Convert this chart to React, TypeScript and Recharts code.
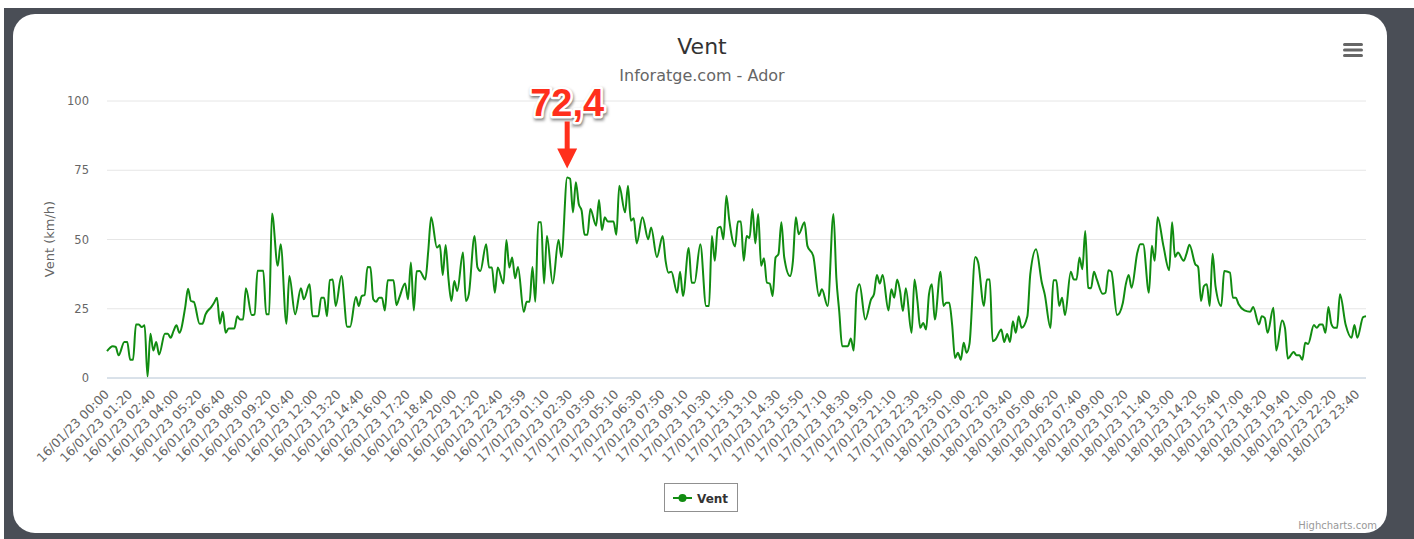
import React from 'react';
import { LineChart, Line, XAxis, YAxis, CartesianGrid, Legend, ReferenceDot } from 'recharts';

const FONT = '"DejaVu Sans", "Noto Sans", sans-serif';

// X tick labels, one every 8 time slots (10-minute readings)
const tickLabels: string[] = [
  '16/01/23 00:00', '16/01/23 01:20', '16/01/23 02:40', '16/01/23 04:00', '16/01/23 05:20', '16/01/23 06:40',
  '16/01/23 08:00', '16/01/23 09:20', '16/01/23 10:40', '16/01/23 12:00', '16/01/23 13:20', '16/01/23 14:40',
  '16/01/23 16:00', '16/01/23 17:20', '16/01/23 18:40', '16/01/23 20:00', '16/01/23 21:20', '16/01/23 22:40',
  '16/01/23 23:59',
  '17/01/23 01:10', '17/01/23 02:30', '17/01/23 03:50', '17/01/23 05:10', '17/01/23 06:30', '17/01/23 07:50',
  '17/01/23 09:10', '17/01/23 10:30', '17/01/23 11:50', '17/01/23 13:10', '17/01/23 14:30', '17/01/23 15:50',
  '17/01/23 17:10', '17/01/23 18:30', '17/01/23 19:50', '17/01/23 21:10', '17/01/23 22:30', '17/01/23 23:50',
  '18/01/23 01:00', '18/01/23 02:20', '18/01/23 03:40', '18/01/23 05:00', '18/01/23 06:20', '18/01/23 07:40',
  '18/01/23 09:00', '18/01/23 10:20', '18/01/23 11:40', '18/01/23 13:00', '18/01/23 14:20', '18/01/23 15:40',
  '18/01/23 17:00', '18/01/23 18:20', '18/01/23 19:40', '18/01/23 21:00', '18/01/23 22:20', '18/01/23 23:40',
];
const SLOTS_PER_TICK = 8;
const LAST_SLOT = 435;

const yTicks = [0, 25, 50, 75, 100];

// [time slot, wind km/h]
const day16: [number, number][] = [
  [0, 9.7], [2, 11.5], [3, 11.2], [4, 8.2], [6, 13], [7, 13], [8, 6.6], [9, 6.6], [10, 19.3], [11, 19.3],
  [12, 18.4], [13, 19], [14, 0.5], [15, 16], [16, 9.9], [17, 13], [18, 8.5], [20, 16], [21, 16], [22, 14.5],
  [23, 17], [24, 19], [25, 16.3], [27, 25.4], [28, 32.2], [29, 27.8], [30, 27.5], [32, 19.6], [33, 19.6],
  [34, 22.9], [36, 25.6], [37, 27.2], [38, 29], [39, 19.6], [40, 23.9], [41, 16.3], [42, 17.9], [44, 17.9],
  [45, 22.3], [46, 21.1], [47, 21.1], [48, 32.4], [50, 22.7], [51, 23], [52, 38.7], [54, 38.7], [55, 23],
  [56, 23], [57, 59.4], [59, 40.5], [60, 48.3], [62, 19.6], [63, 36.8], [65, 23], [67, 32.4], [68, 28.4],
  [70, 33.8], [71, 22.3], [73, 22.3], [74, 29], [75, 29], [76, 22.3], [77, 35.3], [78, 35.6], [79, 26],
  [81, 36.8], [83, 18.5], [84, 18.5], [86, 29.2], [87, 26], [88, 29.6], [89, 29.9], [90, 40.1], [91, 40],
  [92, 28.4], [93, 27.5], [94, 29], [95, 29], [96, 24.4], [97, 35.3], [99, 35.3], [100, 26.3], [101, 29],
  [103, 34.1], [104, 28.4], [105, 41.7], [106, 24.4], [107, 38.5], [108, 38.6], [110, 35.6], [111, 45.9],
  [112, 58], [114, 47.1], [115, 48], [116, 37.2], [117, 48], [118, 35.6], [119, 27.8], [120, 35], [121, 31.4],
  [123, 45.3], [124, 27.8], [125, 30.2], [127, 51.3], [128, 39.9], [129, 38.6], [131, 48.3], [132, 39.9],
  [133, 39.9], [134, 30.8], [135, 39.9], [137, 34.1], [138, 49.8], [139, 39.9], [140, 43.5], [141, 36],
  [142, 40.1], [144, 23.9],
];

const day17: [number, number][] = [
  [145, 27.5], [146, 27.5], [147, 40.1], [148, 27.5], [149, 56.2], [150, 56.2], [151, 34.1], [152, 51.3],
  [154, 34.1], [156, 49.8], [157, 43.7], [159, 72.4], [160, 71.9], [161, 59.8], [162, 70.7], [163, 62.8],
  [164, 60.4], [165, 51.7], [166, 51.7], [167, 61], [169, 55], [170, 64.3], [171, 53.4], [172, 58],
  [173, 56.5], [175, 56.5], [176, 51.7], [177, 69.4], [179, 59.8], [180, 69.4], [181, 56.8], [182, 57.7],
  [183, 48.6], [185, 58], [187, 50.1], [188, 54.3], [190, 43.7], [192, 51.3], [193, 42.3], [194, 38],
  [195, 38.4], [197, 30.8], [198, 38.4], [199, 29.6], [201, 46.9], [202, 34.4], [203, 34.4], [205, 48.3],
  [207, 26], [208, 26], [209, 51.3], [210, 42.3], [211, 54.1], [212, 54.6], [213, 50.1], [214, 65.8],
  [215, 57], [217, 47.5], [218, 56.5], [219, 56.5], [220, 42.3], [221, 51.3], [222, 50.5], [223, 61],
  [224, 48.6], [225, 59.2], [226, 40.5], [227, 43.2], [228, 34.4], [229, 34.1], [230, 29.6], [231, 43.5],
  [232, 44.7], [233, 56.2], [234, 43.5], [236, 36.8], [237, 42.3], [238, 58], [239, 51.9], [241, 56.2],
  [242, 47.7], [244, 44.1], [246, 29.6], [247, 32], [249, 26], [251, 59.2], [252, 36.2], [253, 24],
  [254, 11.5], [256, 11.5], [257, 14.3], [258, 9.9], [259, 30.8], [260, 33.8], [262, 21.1], [264, 28.4],
  [265, 30.2], [266, 37.2], [267, 34.1], [268, 37.2], [270, 24.4], [271, 32], [272, 29], [273, 35.6],
  [274, 31.4], [275, 24.2], [276, 32.4], [278, 16.3], [279, 35.6], [280, 27.8], [281, 18.1], [282, 19.9],
  [283, 17.5], [284, 30.2], [285, 33.8], [286, 21.1], [288, 38.4], [289, 26],
];

const day18: [number, number][] = [
  [290, 27.2], [291, 27.2], [292, 19.3], [293, 7.2], [294, 9.1], [295, 6.6], [296, 12.7], [297, 9.1],
  [298, 12.3], [300, 43.7], [301, 41.7], [303, 26], [304, 35.6], [305, 35.6], [306, 13.3], [307, 13.9],
  [309, 17.5], [310, 13], [311, 15.9], [312, 13], [313, 20.5], [314, 16.3], [315, 22.3], [316, 18.1],
  [318, 22.3], [319, 37.4], [321, 46.5], [323, 34.4], [324, 30.2], [326, 18.1], [327, 35.3], [328, 35.3],
  [329, 26], [330, 29], [331, 22.7], [333, 38.4], [334, 35.6], [335, 35.6], [336, 43.5], [337, 39.3],
  [338, 53.1], [339, 32.6], [340, 32.4], [341, 38.4], [342, 35.6], [344, 30.4], [345, 30.8], [346, 38.9],
  [347, 38.4], [349, 22.7], [351, 27.2], [352, 33.8], [353, 37.2], [354, 32.6], [356, 45.3], [357, 48.3],
  [358, 48.3], [360, 30.8], [361, 47.7], [362, 42.3], [363, 58], [365, 47.7], [367, 38.9], [368, 56.2],
  [369, 43.7], [370, 45.3], [372, 42.3], [373, 44.9], [374, 48.1], [376, 41.1], [377, 40.1], [378, 27.8],
  [379, 33.2], [380, 33.8], [381, 26], [382, 44.9], [383, 33.2], [385, 26], [386, 38.6], [388, 38],
  [389, 29], [390, 29], [391, 26.6], [393, 24.4], [395, 23.9], [396, 25.6], [398, 19.3], [399, 22.3],
  [400, 21.7], [401, 16.3], [403, 25.4], [404, 9.9], [406, 20.8], [407, 18.1], [408, 7], [410, 9.4],
  [411, 8.2], [412, 8.2], [413, 6.6], [414, 12.7], [415, 12.3], [417, 19.1], [418, 18.1], [419, 19.3],
  [420, 19.3], [421, 16.3], [422, 25.6], [423, 19.6], [424, 18.1], [425, 18.1], [426, 30.2], [428, 19.1],
  [430, 14.5], [431, 19.1], [432, 14.5], [434, 22], [435, 22.3],
];

const peakSlot = 159;
const peakValue = 72.4;
const peakText = '72,4';

const chartData = [...day16, ...day17, ...day18].map(([slot, v]) => ({ slot, v }));
const xTicks = tickLabels.map((_, k) => k * SLOTS_PER_TICK);

const GREEN = '#118c11';
const RED = '#ff2f1c';

const XTick = (props: any) => {
  const { x, y, payload } = props;
  const label = tickLabels[Math.round(payload.value / SLOTS_PER_TICK)];
  const ax = x + 3;
  const ay = y + 17;
  return (
    <text x={ax} y={ay} transform={`rotate(-45 ${ax} ${ay})`} textAnchor="end" fontSize={12.5}
      fill="#666" fontFamily={FONT}>{label}</text>
  );
};

const PeakLabel = (props: any) => {
  const vb = props.viewBox || {};
  const cx = vb.x + (vb.width || 0) / 2;
  const cy = vb.y + (vb.height || 0) / 2;
  const tip = cy - 9;
  const headTop = cy - 29;
  const shaftTop = cy - 56;
  const base = cy - 61;
  return (
    <g>
      <defs>
        <filter id="annShadow" x="-30%" y="-30%" width="160%" height="160%">
          <feGaussianBlur stdDeviation="1.6" />
        </filter>
      </defs>
      <text x={cx + 1} y={base + 2} textAnchor="middle" fontSize={38} fontWeight="bold"
        fontFamily='"Liberation Sans", Arial, sans-serif' fill="rgba(0,0,0,0.45)" stroke="rgba(0,0,0,0.45)"
        strokeWidth={5} filter="url(#annShadow)">{peakText}</text>
      <text x={cx} y={base} textAnchor="middle" fontSize={38} fontWeight="bold"
        fontFamily='"Liberation Sans", Arial, sans-serif' fill={RED} stroke="#fff" strokeWidth={5}
        strokeLinejoin="round" paintOrder="stroke">{peakText}</text>
      <path d={`M${cx - 2.5},${shaftTop} L${cx + 2.5},${shaftTop} L${cx + 2.5},${headTop} L${cx + 10},${headTop} L${cx},${tip} L${cx - 10},${headTop} L${cx - 2.5},${headTop} Z`}
        fill={RED} />
    </g>
  );
};

const LegendBox = () => (
  <div style={{ width: 74, height: 29, boxSizing: 'border-box', border: '1px solid #909090', background: '#fff' }}>
    <svg width={72} height={27} style={{ display: 'block' }}>
      <line x1={8} y1={14} x2={27} y2={14} stroke={GREEN} strokeWidth={2} />
      <circle cx={17.5} cy={14} r={4} fill={GREEN} />
      <text x={32} y={18.5} fontSize={12} fontWeight="bold" fill="#333" fontFamily={FONT}>Vent</text>
    </svg>
  </div>
);

export default function App() {
  return (
    <div style={{ position: 'absolute', left: 0, top: 0, width: 1414, height: 539, background: '#fff', overflow: 'hidden', fontFamily: FONT }}>
      <div style={{ position: 'absolute', left: 4, top: 8, width: 1410, height: 531, background: '#4a4e56' }} />
      <div style={{ position: 'absolute', left: 13, top: 14, width: 1374, height: 519, background: '#fff', borderRadius: 22 }} />
      <div style={{ position: 'absolute', left: 0, top: 0 }}>
        <LineChart width={1414} height={539} data={chartData} margin={{ top: 101, right: 48, left: 0, bottom: 32 }}>
          <CartesianGrid horizontal vertical={false} stroke="#e6e6e6" />
          <XAxis dataKey="slot" type="number" domain={[0, LAST_SLOT]} ticks={xTicks} interval={0}
            axisLine={{ stroke: '#C0D0E0' }} tickLine={false} tickSize={0} tickMargin={0} height={100} tick={<XTick />} />
          <YAxis type="number" domain={[0, 100]} ticks={yTicks} width={107} axisLine={false} tickLine={false}
            tickSize={0} tickMargin={18} tick={{ fill: '#666', fontSize: 11.5, fontFamily: FONT }} />
          <Line type="monotone" dataKey="v" name="Vent" stroke={GREEN} strokeWidth={2} dot={false}
            activeDot={false} isAnimationActive={false} />
          <ReferenceDot x={peakSlot} y={peakValue} r={1} fill="none" stroke="none" label={(p: any) => <PeakLabel {...p} />} />
          <Legend content={() => <LegendBox />} wrapperStyle={{ position: 'absolute', left: 664, top: 483, width: 74, height: 29 }} />
        </LineChart>
      </div>
      <svg width={1414} height={539} style={{ position: 'absolute', left: 0, top: 0, pointerEvents: 'none' }}>
        <text x={702} y={54} textAnchor="middle" fontSize={22} fill="#333" fontFamily={FONT}>Vent</text>
        <text x={702} y={81} textAnchor="middle" fontSize={16} fill="#666" fontFamily={FONT}>Inforatge.com - Ador</text>
        <text x={54} y={239} transform="rotate(-90 54 239)" textAnchor="middle" fontSize={13} fill="#666" fontFamily={FONT}>Vent (km/h)</text>
        <rect x={1343} y={43} width={20} height={3} rx={1.5} fill="#666" />
        <rect x={1343} y={48.5} width={20} height={3} rx={1.5} fill="#666" />
        <rect x={1343} y={54} width={20} height={3} rx={1.5} fill="#666" />
        <text x={1377} y={529} textAnchor="end" fontSize={10} fill="#999" fontFamily={FONT}>Highcharts.com</text>
      </svg>
    </div>
  );
}
